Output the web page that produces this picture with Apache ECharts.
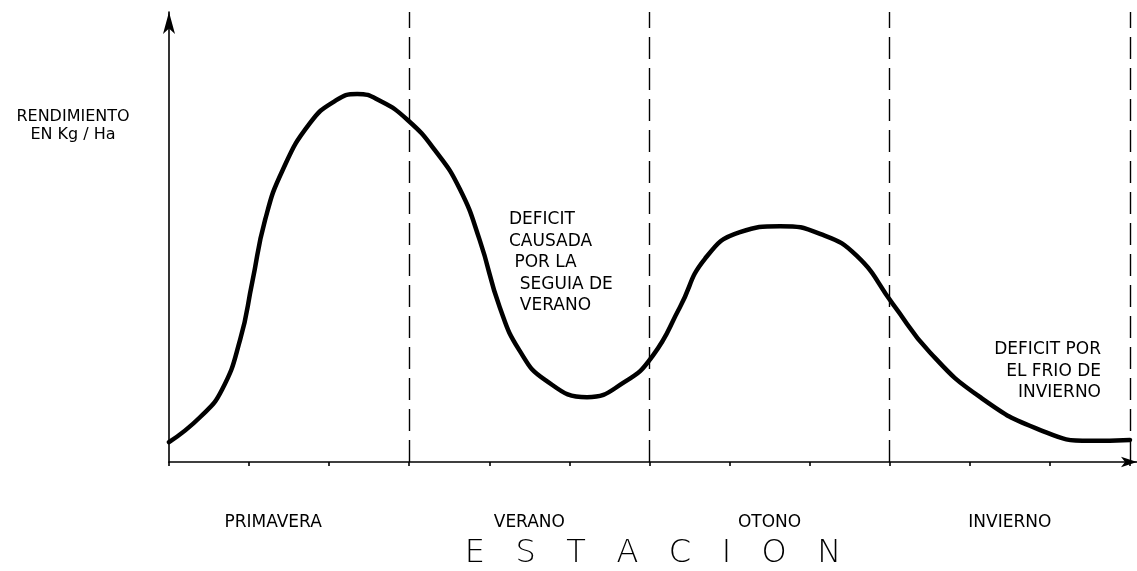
<!DOCTYPE html>
<html>
<head>
<meta charset="utf-8">
<script src="https://cdn.jsdelivr.net/npm/echarts@6/dist/echarts.min.js"></script>
<style>
  html, body { margin: 0; padding: 0; background: #fff; }
  #chart { width: 1137px; height: 571px; }
</style>
</head>
<body>
<div id="chart"></div>
<script>
// Seasons along the year (x in months from the start of spring)
const seasonNames = ['PRIMAVERA', 'VERANO', 'OTONO', 'INVIERNO'];
const seasonLabelPos = [1.3, 4.5, 7.5, 10.5];
const seasonBounds = [3, 6, 9, 12];
const monthTicks = [0, 1, 2, 3, 4, 5, 6, 7, 8, 9, 10, 11, 12];

// Relative yield (Kg/Ha index) through the year
const monthPos = [0, 0.39, 0.66, 0.89, 1.04, 1.20, 1.42, 1.76, 2.07, 2.35, 2.64, 2.98,
  3.32, 3.63, 3.88, 4.13, 4.38, 4.70, 5.22, 5.69, 6.04, 6.38, 6.69, 7.13, 7.63, 8.13,
  8.59, 9.04, 9.50, 10.13, 10.88, 11.50, 12.0];
const yieldIdx = [4.4, 10.0, 16.0, 27.3, 40.0, 53.8, 64.9, 75.3, 80.2, 81.8, 80.2, 76.0,
  69.3, 60.7, 49.3, 34.4, 24.7, 18.2, 14.4, 17.8, 23.6, 34.4, 45.1, 51.1, 52.4, 50.7,
  45.8, 35.1, 24.4, 14.4, 7.1, 4.7, 4.9];

const curve = monthPos.map((m, i) => [m, yieldIdx[i]]);

const ink = '#000';
const handFont = '"DejaVu Sans", sans-serif';

const chart = echarts.init(document.getElementById('chart'), null, { renderer: 'canvas' });

chart.setOption({
  backgroundColor: '#fff',
  animation: false,
  grid: {
    left: 169, top: 12, width: 968, height: 450,
    containLabel: false,
    outerBoundsMode: 'none'
  },
  xAxis: {
    type: 'value',
    min: 0,
    max: 968 / 80.08,
    splitLine: { show: false },
    axisLine: {
      show: true,
      lineStyle: { color: ink, width: 1.6 },
      symbol: ['none', 'arrow'],
      symbolSize: [8, 16]
    },
    axisTick: {
      show: true,
      customValues: monthTicks,
      length: 4,
      lineStyle: { color: ink, width: 1.6 }
    },
    axisLabel: {
      show: true,
      customValues: seasonLabelPos,
      formatter: (v) => seasonNames[seasonLabelPos.indexOf(v)] || '',
      margin: 52,
      color: ink,
      fontFamily: handFont,
      fontSize: 17
    },
    name: 'E   S   T   A   C   I   O   N',
    nameLocation: 'middle',
    nameGap: 76,
    nameTextStyle: {
      color: ink,
      fontFamily: handFont,
      fontSize: 32,
      fontWeight: 'lighter'
    }
  },
  yAxis: {
    type: 'value',
    min: 0,
    max: 100,
    splitLine: { show: false },
    axisTick: { show: false },
    axisLabel: { show: false },
    axisLine: {
      show: true,
      lineStyle: { color: ink, width: 1.6 },
      symbol: ['none', 'arrow'],
      symbolSize: [9, 22]
    }
  },
  graphic: [
    {
      type: 'text', x: 73, y: 108,
      style: {
        text: 'RENDIMIENTO\nEN Kg / Ha',
        fill: ink, font: '16px ' + handFont, align: 'center', verticalAlign: 'top',
        lineHeight: 18
      }
    },
    {
      type: 'text', x: 509, y: 209,
      style: {
        text: 'DEFICIT\nCAUSADA\n POR LA\n  SEGUIA DE\n  VERANO',
        fill: ink, font: '17px ' + handFont, lineHeight: 21.5, verticalAlign: 'top'
      }
    },
    {
      type: 'text', x: 1101, y: 339,
      style: {
        text: 'DEFICIT POR\nEL FRIO DE\nINVIERNO',
        fill: ink, font: '17px ' + handFont, lineHeight: 21.5,
        align: 'right', verticalAlign: 'top'
      }
    }
  ],
  series: [
    {
      type: 'line',
      data: curve,
      smooth: 0.5,
      showSymbol: false,
      lineStyle: { color: ink, width: 4.5, cap: 'round', join: 'round' },
      markLine: {
        silent: true,
        symbol: ['none', 'none'],
        label: { show: false },
        lineStyle: { color: ink, width: 1.4, type: [22, 9] },
        data: seasonBounds.map((b) => ({ xAxis: b }))
      }
    }
  ]
});
</script>
</body>
</html>
